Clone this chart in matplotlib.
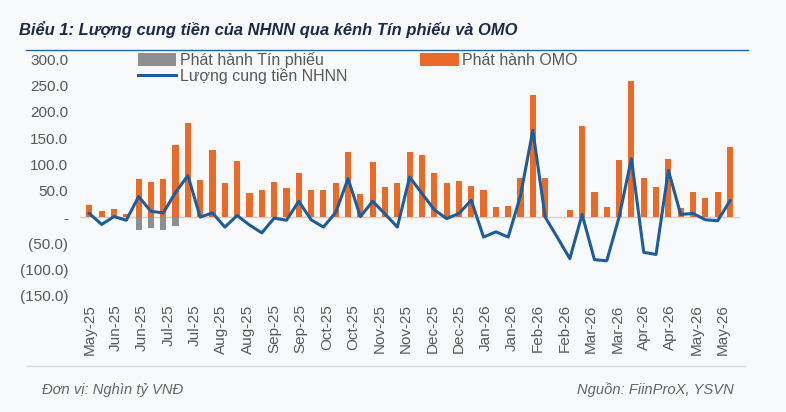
import matplotlib
matplotlib.use('Agg')
import matplotlib.pyplot as plt
import matplotlib.dates as mdates
from matplotlib.ticker import FuncFormatter
import numpy as np
import pandas as pd

plt.rcParams['font.family'] = ['Liberation Sans', 'DejaVu Sans']

# weekly data, nghin ty VND
start_date = '2025-05-27'
omo = [23, 11, 15, 5, 72, 66, 72, 137, 178, 70,
       128, 64, 107, 45, 52, 67, 55, 84, 52, 52,
       64, 123, 43, 104, 57, 65, 123, 119, 84, 64,
       69, 60, 52, 19, 22, 75, 232, 74, 0, 14,
       173, 47, 19, 109, 258, 74, 58, 111, 17, 47,
       37, 47, 133]
tin_phieu = [0, 0, 0, 0, -25, -20, -25, -17, 0, 0,
             0, 0, 0, 0, 0, 0, 0, 0, 0, 0,
             0, 0, 0, 0, 0, 0, 0, 0, 0, 0,
             0, 0, 0, 0, 0, 0, 0, 0, 0, 0,
             0, 0, 0, 0, 0, 0, 0, 0, 0, 0,
             0, 0, 0]
cung_tien = [7, -14, 1, -6, 39, 11, 8, 47, 79, 0,
             8, -19, 3, -15, -30, -2, -6, 30, -5, -19,
             9, 73, 1, 30, 6, -19, 76, 45, 14, -3,
             7, 32, -38, -28, -38, 41, 165, 0, -39, -79,
             5, -81, -83, 0, 111, -67, -71, 89, 5, 7,
             -5, -7, 31]

dates = pd.date_range(start_date, periods=len(omo), freq='7D')
label_dates = pd.date_range(start_date, periods=25, freq='15D')

ORANGE = '#ea6a28'
GREY = '#8f8f8f'
BLUE = '#1d5d9b'
TXT = '#595959'

W, H = 786, 412
fig = plt.figure(figsize=(W / 100, H / 100), dpi=100)
fig.patch.set_facecolor('#f8f9fa')

ax = fig.add_axes([80 / W, 0.2816, 660 / W, 0.5744])
ax.set_facecolor('none')

bw = 3.5
ax.bar(dates, omo, width=bw, color=ORANGE, label='Phát hành OMO', zorder=2)
ax.bar(dates, tin_phieu, width=bw, color=GREY, label='Phát hành Tín phiếu', zorder=2)
ax.plot(dates, cung_tien, color=BLUE, lw=2.2, label='Lượng cung tiền NHNN', zorder=3)
ax.axhline(0, color='#dccbc6', lw=1, zorder=1)

d0 = mdates.date2num(dates[0])
ax.set_xlim(d0 - 5.3, d0 + 369.7)
ax.set_ylim(-150, 300)
ax.set_yticks(np.arange(-150, 301, 50))


def yfmt(v, pos):
    if abs(v) < 1e-9:
        return '-'
    if v < 0:
        return '(%.1f)' % abs(v)
    return '%.1f' % v


ax.yaxis.set_major_formatter(FuncFormatter(yfmt))
ax.set_xticks(label_dates)
ax.xaxis.set_major_formatter(mdates.DateFormatter('%b-%y'))
ax.tick_params(axis='y', length=0, pad=8.5, labelsize=11, labelcolor=TXT)
ax.tick_params(axis='x', length=0, pad=6, labelsize=11, labelcolor=TXT, rotation=90)
for s in ax.spines.values():
    s.set_visible(False)

h, l = ax.get_legend_handles_labels()
by_label = dict(zip(l, h))
order = ['Phát hành Tín phiếu', 'Lượng cung tiền NHNN', 'Phát hành OMO']
leg = fig.legend([by_label[k] for k in order], order, ncol=2,
                 loc='upper left', bbox_to_anchor=(138 / W, 1 - 52 / H),
                 frameon=False, fontsize=11.5, borderpad=0, borderaxespad=0,
                 labelspacing=0.0, handlelength=2.4, handleheight=0.8,
                 handletextpad=0.2, columnspacing=4.6)
for t in leg.get_texts():
    t.set_color(TXT)

# title, rules and footer
fig.text(19 / W, 1 - 29 / H, 'Biểu 1: Lượng cung tiền của NHNN qua kênh Tín phiếu và OMO',
         fontsize=11.9, fontweight='bold', fontstyle='italic', color='#1c2a4a', va='center')
fig.add_artist(plt.Line2D([26 / W, 748 / W], [1 - 50 / H, 1 - 50 / H], color='#2a64a8', lw=1))
fig.add_artist(plt.Line2D([27 / W, 745 / W], [1 - 366 / H, 1 - 366 / H], color='#d9d9d9', lw=1))
fig.text(42 / W, 1 - 390 / H, 'Đơn vị: Nghìn tỷ VNĐ', fontsize=10.6, fontstyle='italic',
         color='#666666', va='center')
fig.text(734 / W, 1 - 390 / H, 'Nguồn: FiinProX, YSVN', fontsize=10.6, fontstyle='italic',
         color='#666666', va='center', ha='right')

fig.savefig('out.png', dpi=100, facecolor=fig.get_facecolor())
